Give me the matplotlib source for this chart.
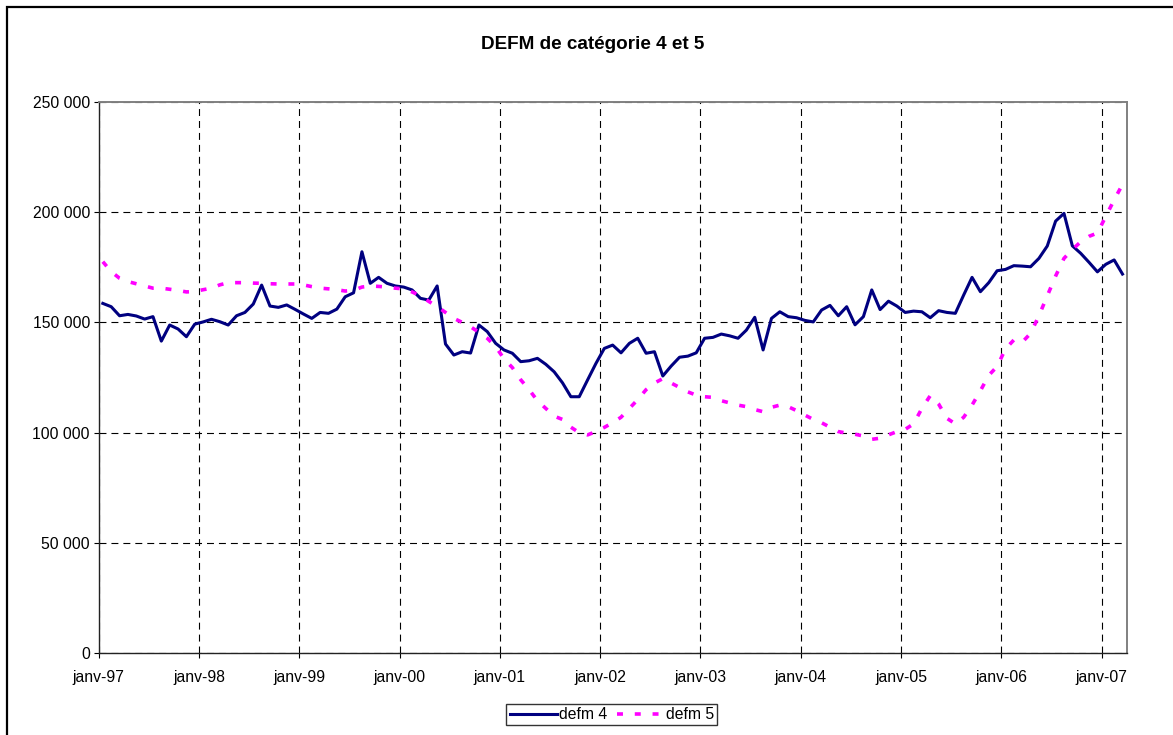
import matplotlib
matplotlib.use("Agg")
import matplotlib.pyplot as plt
from matplotlib.patches import Rectangle
from matplotlib.ticker import FuncFormatter
import numpy as np

plt.rcParams['font.family'] = ['Liberation Sans', 'DejaVu Sans']
plt.rcParams['lines.scale_dashes'] = False

# monthly values, janv-97 .. mars-07 (thousands)
defm4 = [
    158.6, 157.1, 153.0, 153.6, 152.9, 151.5, 152.6, 141.5, 148.8, 147.0, 143.5, 149.2,
    150.2, 151.4, 150.3, 148.8, 153.0, 154.5, 158.3, 166.9, 157.4, 156.8, 157.9, 155.9,
    153.8, 151.8, 154.5, 154.1, 156.0, 161.6, 163.4, 182.0, 167.7, 170.4, 167.7, 166.5,
    166.0, 164.7, 160.9, 160.1, 166.5, 140.2, 135.2, 136.7, 136.1, 148.8, 145.8, 140.5,
    137.5, 136.0, 132.2, 132.6, 133.7, 131.0, 127.6, 122.6, 116.3, 116.3, 123.9, 131.4,
    138.2, 139.7, 136.2, 140.5, 142.8, 136.0, 136.7, 125.7, 130.2, 134.2, 134.7, 136.2,
    142.8, 143.2, 144.7, 143.9, 142.8, 146.5, 152.3, 137.5, 151.8, 154.8, 152.6, 152.1,
    150.9, 150.2, 155.6, 157.7, 153.0, 157.1, 148.9, 152.6, 164.7, 155.8, 159.6, 157.4,
    154.5, 155.1, 154.8, 152.1, 155.3, 154.5, 154.1, 162.4, 170.4, 163.9, 168.0, 173.4,
    174.0, 175.7, 175.5, 175.2, 179.0, 184.6, 195.9, 199.4, 184.7, 181.3, 177.2, 172.9,
    176.3, 178.3, 171.9,
]
defm5 = [
    177.5, 173.0, 170.0, 168.5, 167.5, 166.5, 165.5, 165.5, 165.0, 164.5, 163.8, 164.0,
    164.8, 165.5, 167.0, 168.0, 168.0, 168.0, 167.8, 167.7, 167.5, 167.4, 167.4, 167.4,
    167.0, 166.2, 165.5, 165.2, 164.8, 164.2, 164.5, 166.0, 166.5, 166.3, 166.0, 165.5,
    165.2, 163.8, 162.0, 159.5, 157.2, 154.5, 151.8, 150.0, 148.0, 145.5, 142.8, 139.0,
    133.5, 129.5, 124.0, 119.5, 114.5, 111.0, 107.5, 106.0, 102.5, 100.0, 99.0, 100.5,
    102.4, 104.5, 107.0, 111.0, 115.0, 119.5, 122.5, 124.5, 122.5, 120.5, 118.5, 117.0,
    116.3, 116.0, 114.5, 113.5, 112.5, 111.8, 110.5, 109.5, 111.5, 112.5, 111.8, 110.0,
    108.0, 106.0, 104.5, 102.5, 100.5, 99.8, 99.3, 98.5, 97.0, 97.5, 99.0, 100.5,
    101.5, 104.0, 111.0, 116.8, 113.0, 106.5, 104.0, 107.0, 112.5, 119.0, 126.0, 130.0,
    138.0, 142.0, 141.0, 145.0, 153.0, 162.0, 171.0, 179.0, 183.0, 186.5, 189.0, 190.5,
    198.0, 205.5, 212.5,
]
year_labels = ['janv-97', 'janv-98', 'janv-99', 'janv-00', 'janv-01', 'janv-02',
               'janv-03', 'janv-04', 'janv-05', 'janv-06', 'janv-07']
y_ticks = [0, 50000, 100000, 150000, 200000, 250000]


def fmt_thousands(v, pos):
    return f"{v:,.0f}".replace(",", " ")


def main():
    fig = plt.figure(figsize=(11.73, 7.35), dpi=100)
    ax = fig.add_axes([0.0841, 0.1111, 0.8764, 0.7505])

    # points sit in the middle of each month, like an Excel date axis
    months = np.arange(len(defm4)) + 0.5
    s4 = np.array(defm4) * 1000
    s5 = np.array(defm5) * 1000

    ax.plot(months, s4, color='#000080', lw=2.2, label='defm 4', zorder=3)
    ax.plot(months, s5, color='#FF00FF', lw=2.6, linestyle=(0, (4.3, 8.5)),
            label='defm 5', zorder=4)

    ax.set_xlim(0, 123)
    ax.set_ylim(0, 250000)
    ax.set_xticks(np.arange(len(year_labels)) * 12)
    ax.set_xticklabels(year_labels)
    ax.set_yticks(y_ticks)
    ax.yaxis.set_major_formatter(FuncFormatter(fmt_thousands))
    ax.tick_params(direction='out', length=3.3, width=0.8, labelsize=11.3,
                   colors='black', pad=3)
    ax.tick_params(axis='x', pad=9)

    ax.grid(True, color='black', linestyle=(0, (5, 3.6)), linewidth=0.8)
    ax.set_axisbelow(True)
    for side in ['left', 'bottom']:
        ax.spines[side].set_color('#222222')
        ax.spines[side].set_linewidth(1.0)
    for side in ['top', 'right']:
        ax.spines[side].set_color('#808080')
        ax.spines[side].set_linewidth(1.4)

    fig.text(0.5055, 0.9388, 'DEFM de catégorie 4 et 5', ha='center', va='center',
             fontsize=13.6, fontweight='bold')

    leg = fig.legend(loc='center', bbox_to_anchor=(0.5217, 0.0279), ncol=2,
                     fontsize=11.3, frameon=True, fancybox=False, handlelength=3.0,
                     handletextpad=0.15, columnspacing=0.6, borderpad=0.2,
                     borderaxespad=0)
    leg.get_frame().set_edgecolor('black')
    leg.get_frame().set_linewidth(1.0)

    # outer chart border, cut off at the right and bottom edges
    fig.patches.append(Rectangle((6.5 / 1173, -0.1), 1.2, 1.0905, fill=False,
                                 edgecolor='black', linewidth=1.6,
                                 transform=fig.transFigure))

    fig.savefig('out.png', dpi=100)


if __name__ == "__main__":
    main()
